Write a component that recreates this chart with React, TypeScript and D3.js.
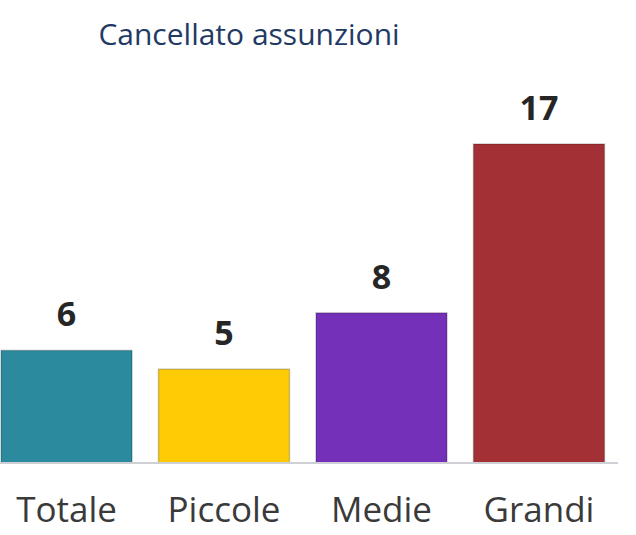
import React from 'react';
import { scaleBand, scaleLinear } from 'd3';

const categories = ['Totale', 'Piccole', 'Medie', 'Grandi'];
const values = [6, 5, 8, 17];
const colors = ['#2b8a9e', '#ffcb05', '#7430b8', '#a23035'];
const title = 'Cancellato assunzioni';

const width = 636;
const height = 535;
const baseY = 463;

export default function App() {
  const x = scaleBand().domain(categories).range([1, 604.5]).paddingInner(0.168).paddingOuter(0);
  const y = scaleLinear().domain([0, 17]).range([baseY, 144]);

  return (
    <svg width={width} height={height} style={{ position: 'absolute', left: 0, top: 0, background: '#fff' }}>
      <text x={249} y={45} textAnchor="middle" fontFamily="Open Sans" fontSize={30} fill="#1f3a64">{title}</text>
      {categories.map((c, i) => (
        <g key={c}>
          <rect x={x(c)} y={y(values[i])} width={x.bandwidth()} height={baseY - y(values[i])}
            fill={colors[i]} stroke="#00000033" strokeWidth={1.5} />
          <text x={(x(c) ?? 0) + x.bandwidth() / 2} y={y(values[i]) - 24} textAnchor="middle"
            fontFamily="Open Sans" fontWeight="bold" fontSize={34} fill="#262626">{values[i]}</text>
          <text x={(x(c) ?? 0) + x.bandwidth() / 2} y={522} textAnchor="middle"
            fontFamily="Open Sans" fontSize={35} fill="#3a3a3a">{c}</text>
        </g>
      ))}
      <line x1={0} x2={618} y1={baseY} y2={baseY} stroke="#cfcfd6" strokeWidth={2} />
    </svg>
  );
}
